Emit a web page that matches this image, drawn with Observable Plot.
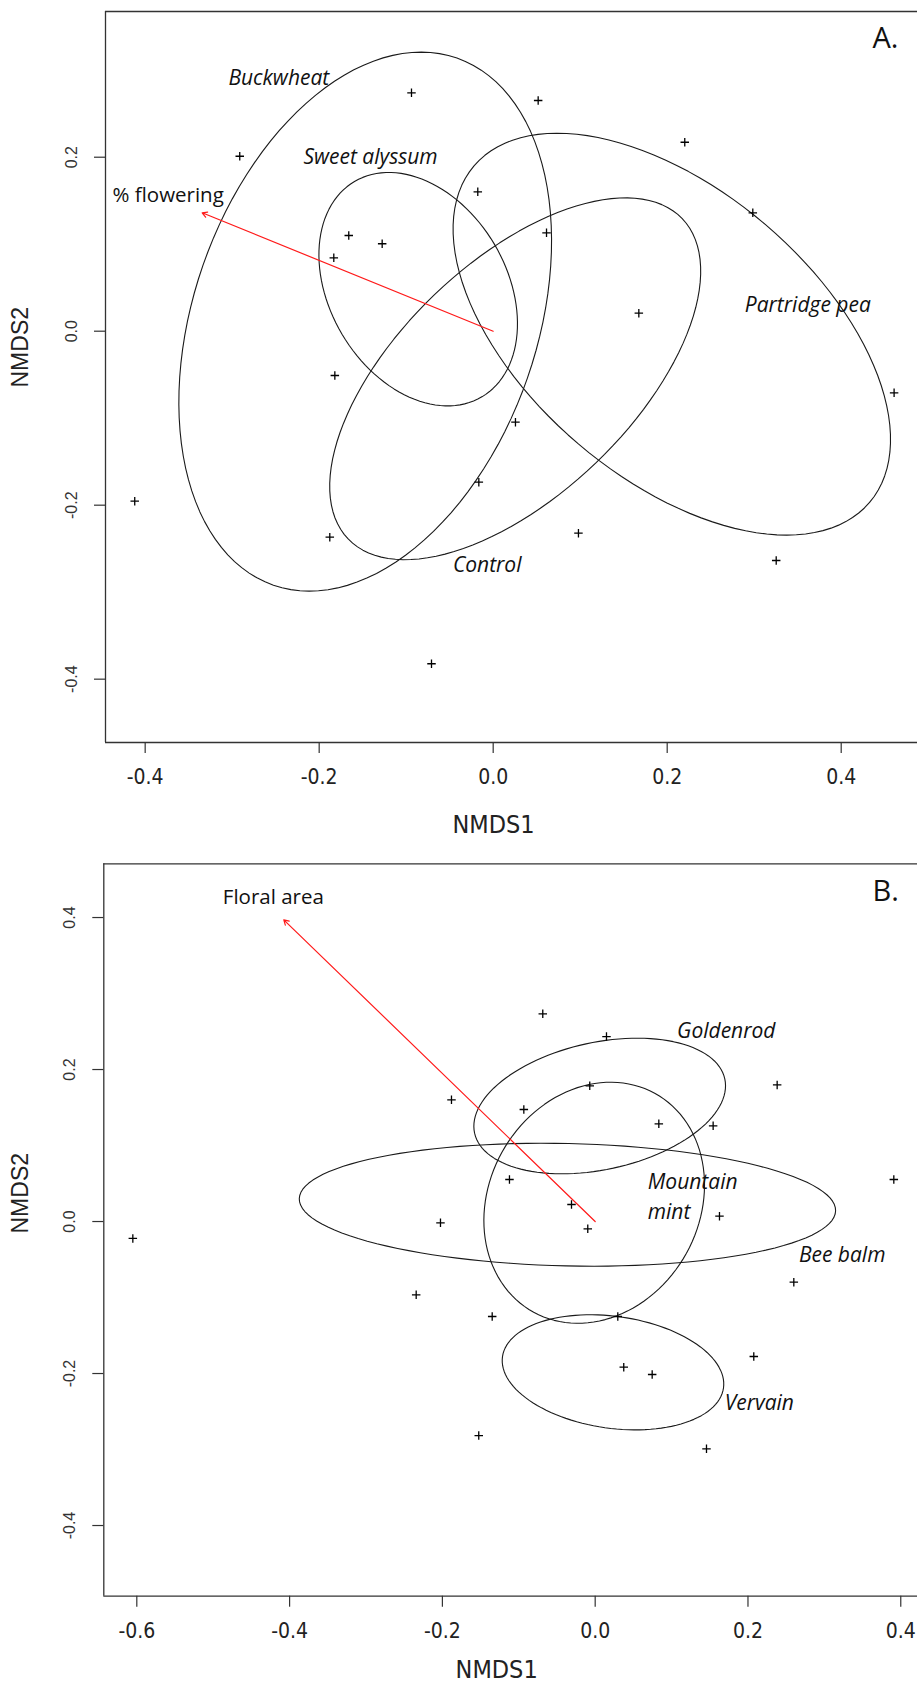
<!DOCTYPE html>
<html><head><meta charset="utf-8">
<script src="https://cdn.jsdelivr.net/npm/d3@7"></script>
<script src="https://cdn.jsdelivr.net/npm/@observablehq/plot@0.6"></script>
<style>
body{margin:0;background:#fff;}
#chart svg{display:block;background:#fff;}
</style></head><body><div id="chart"></div>
<script>
// ---------- Panel A data ----------
const nmds1A = [-0.0939, -0.2913, -0.0177, -0.166, -0.1276, -0.1832, -0.182, 0.0517, 0.2202, 0.2984, 0.0613, 0.1674, 0.4608, 0.0256, -0.0165, -0.412, -0.1878, -0.0709, 0.098, 0.3253];
const nmds2A = [0.274, 0.2011, 0.1602, 0.110, 0.1005, 0.0844, -0.0509, 0.2652, 0.2172, 0.1361, 0.1131, 0.0207, -0.0708, -0.1046, -0.1736, -0.1954, -0.2368, -0.3823, -0.2322, -0.2636];
const groupsA = ["Buckwheat", "Sweet alyssum", "Partridge pea", "Control"];
const ellCxA = [-0.1471, -0.0862, 0.2053, 0.0253];
const ellCyA = [0.011, 0.0483, -0.0034, -0.0547];
const ellMajorA = [0.3208, 0.1438, 0.2985, 0.266];
const ellMinorA = [0.1974, 0.1017, 0.1657, 0.134];
const ellAngleA = [70.8, -59.4, -40.4, 43.8];
const labelXA = [-0.2464, -0.141, 0.3616, -0.0069];
const labelYA = [0.2908, 0.200, 0.0303, -0.2693];
const vectorA = {name: "% flowering", x: -0.3345, y: 0.1361, lx: -0.4376, ly: 0.156};
const xTicksA = [-0.4, -0.2, 0.0, 0.2, 0.4];
const yTicksA = [-0.4, -0.2, 0.0, 0.2];
const xDomA = [-0.4456, 0.4877];
const yDomA = [-0.4728, 0.3675];

// ---------- Panel B data ----------
const nmds1B = [-0.1881, -0.1122, -0.2025, -0.6052, -0.0686, 0.0148, -0.0071, -0.0934, 0.2382, 0.0833, 0.1544, 0.3909, -0.031, -0.0097, 0.1627, -0.2343, -0.1348, -0.1524, 0.26, 0.0296, 0.2076, 0.0374, 0.0746, 0.1457];
const nmds2B = [0.1601, 0.0553, -0.0017, -0.0222, 0.2733, 0.2434, 0.1785, 0.1474, 0.1798, 0.1285, 0.1259, 0.0553, 0.0224, -0.0096, 0.007, -0.0964, -0.125, -0.2816, -0.0798, -0.125, -0.1776, -0.1917, -0.2013, -0.2991];
const groupsB = ["Goldenrod", "Mountain mint", "Bee balm", "Vervain"];
const ellCxB = [0.0059, -0.0013, -0.0363, 0.0233];
const ellCyB = [0.152, 0.0247, 0.0221, -0.1984];
const ellMajorB = [0.1676, 0.1644, 0.3511, 0.1461];
const ellMinorB = [0.0837, 0.1378, 0.0805, 0.0736];
const ellAngleB = [12.3, 61.2, -1.3, -8.14];
const labelTextB = ["Goldenrod", "Bee balm", "Vervain"];
const labelXB = [0.1716, 0.3233, 0.2148];
const labelYB = [0.25, -0.0447, -0.2391];
const mintLabel = {text: "Mountain\nmint", x: 0.0688, y: 0.0354};
const vectorB = {name: "Floral area", x: -0.4076, y: 0.397, lx: -0.4874, ly: 0.4259};
const xTicksB = [-0.6, -0.4, -0.2, 0.0, 0.2, 0.4];
const yTicksB = [-0.4, -0.2, 0.0, 0.2, 0.4];
const xDomB = [-0.6432, 0.4219];
const yDomB = [-0.493, 0.4707];

// ---------- helpers ----------
function ellipseRows(groups, cx, cy, A, B, ang) {
  const rows = [];
  groups.forEach((g, i) => {
    const th = ang[i] * Math.PI / 180, c = Math.cos(th), s = Math.sin(th);
    for (let k = 0; k <= 120; k++) {
      const t = 2 * Math.PI * k / 120;
      rows.push({group: g,
        x: cx[i] + A[i] * c * Math.cos(t) - B[i] * s * Math.sin(t),
        y: cy[i] + A[i] * s * Math.cos(t) + B[i] * c * Math.sin(t)});
    }
  });
  return rows;
}
const zip = (xs, ys) => xs.map((x, i) => ({x, y: ys[i]}));
const fmt = d => d.toFixed(1);
const sans = "'Liberation Sans', Arial, sans-serif";
const narrow = "'Liberation Sans Narrow', 'DejaVu Sans Condensed', 'Liberation Sans', sans-serif";
const label = "'Open Sans', 'Noto Sans', sans-serif";

function panel(opts) {
  const {width, height, mL, mT, mB, xDom, yDom, xTicks, yTicks, pts, ells, vec, letter,
         letterDx, letterDy, n1dx, n1dy, n2dx, n2dy, extra} = opts;
  return Plot.plot({
    width, height, marginLeft: mL, marginRight: 0, marginTop: mT, marginBottom: mB,
    x: {domain: xDom}, y: {domain: yDom},
    style: {fontFamily: sans, background: "#fff", color: "#222"},
    marks: [
      Plot.ruleX([xDom[0]], {stroke: "#333", strokeWidth: 1.3}),
      Plot.ruleY(yDom, {stroke: "#333", strokeWidth: 1.3}),
      Plot.axisX({ticks: xTicks, tickFormat: fmt, tickSize: 11, tickPadding: 16, fontSize: 21,
                  fontFamily: narrow, label: null, stroke: "#333", strokeWidth: 1.2, fill: "#222"}),
      Plot.axisY({ticks: yTicks, tickFormat: fmt, tickSize: 11, tickPadding: 18, tickRotate: -90,
                  fontSize: 16, fontFamily: sans, label: null, stroke: "#333", strokeWidth: 1.2, fill: "#333"}),
      Plot.line(ells, {x: "x", y: "y", z: "group", stroke: "#1a1a1a", strokeWidth: 1.1}),
      Plot.arrow([vec], {x1: () => 0, y1: () => 0, x2: "x", y2: "y", stroke: "#ff1a1a",
                         strokeWidth: 1.2, headLength: 7, headAngle: 60}),
      Plot.dot(pts, {x: "x", y: "y", symbol: "plus", r: 2.85, stroke: "#000", strokeWidth: 1.3}),
      Plot.text([vec], {x: "lx", y: "ly", text: "name", textAnchor: "start", fontSize: 20.5,
                        fontFamily: label, fill: "#111"}),
      ...extra,
      Plot.text([letter], {frameAnchor: "top-right", text: d => d, textAnchor: "end", lineAnchor: "middle",
                           dx: letterDx, dy: letterDy, fontSize: 29, fontFamily: label, fill: "#111"}),
      Plot.text(["NMDS1"], {frameAnchor: "bottom", text: d => d, lineAnchor: "middle",
                            dx: n1dx, dy: n1dy, fontSize: 25, fontFamily: narrow, fill: "#222"}),
      Plot.text(["NMDS2"], {frameAnchor: "left", text: d => d, rotate: -90, lineAnchor: "middle",
                            dx: n2dx, dy: n2dy, fontSize: 23, fontFamily: sans, fill: "#222"})
    ]
  });
}

const labelsA = groupsA.map((g, i) => ({text: g, x: labelXA[i], y: labelYA[i]}));
const labelsB = labelTextB.map((g, i) => ({text: g, x: labelXB[i], y: labelYB[i]}));

const chartA = panel({
  width: 917, height: 845, mL: 105, mT: 11, mB: 103, xDom: xDomA, yDom: yDomA,
  xTicks: xTicksA, yTicks: yTicksA, pts: zip(nmds1A, nmds2A),
  ells: ellipseRows(groupsA, ellCxA, ellCyA, ellMajorA, ellMinorA, ellAngleA),
  vec: vectorA, letter: "A.", letterDx: -19, letterDy: 27,
  n1dx: -18, n1dy: 82, n2dx: -84.5, n2dy: 10.5,
  extra: [Plot.text(labelsA, {x: "x", y: "y", text: "text", fontStyle: "italic", fontSize: 21,
                              fontFamily: label, fill: "#111"})]
});
const chartB = panel({
  width: 917, height: 839, mL: 103.3, mT: 18.3, mB: 88.3, xDom: xDomB, yDom: yDomB,
  xTicks: xTicksB, yTicks: yTicksB, pts: zip(nmds1B, nmds2B),
  ells: ellipseRows(groupsB, ellCxB, ellCyB, ellMajorB, ellMinorB, ellAngleB),
  vec: vectorB, letter: "B.", letterDx: -18.7, letterDy: 28.4,
  n1dx: -14, n1dy: 73.3, n2dx: -82.8, n2dy: 3.5,
  extra: [
    Plot.text(labelsB, {x: "x", y: "y", text: "text", fontStyle: "italic", fontSize: 21,
                        fontFamily: label, fill: "#111"}),
    Plot.text([mintLabel], {x: "x", y: "y", text: "text", textAnchor: "start", lineHeight: 1.414,
                            fontStyle: "italic", fontSize: 21, fontFamily: label, fill: "#111"})
  ]
});
document.getElementById("chart").append(chartA, chartB);
</script>
</body></html>
